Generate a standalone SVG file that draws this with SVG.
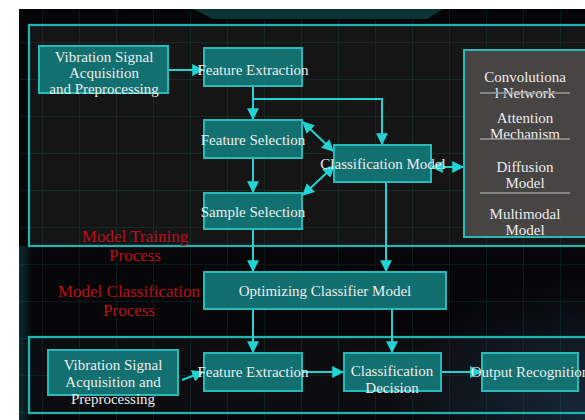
<svg xmlns="http://www.w3.org/2000/svg" width="585" height="420" viewBox="0 0 585 420">
  <defs>
    <pattern id="grid" width="37" height="37" patternUnits="userSpaceOnUse" x="6" y="6">
      <path d="M37 0V37M0 37H37" fill="none" stroke="#2a8c8c" stroke-opacity="0.2" stroke-width="1.5"/>
    </pattern>
    <radialGradient id="glowBR" cx="1" cy="1" r="0.35">
      <stop offset="0" stop-color="#1c3a52" stop-opacity="0.6"/>
      <stop offset="1" stop-color="#1c3a52" stop-opacity="0"/>
    </radialGradient>
    <linearGradient id="glowL" x1="0" x2="1" y1="0" y2="0">
      <stop offset="0" stop-color="#0f4a4f" stop-opacity="0.6"/>
      <stop offset="1" stop-color="#0f4a4f" stop-opacity="0"/>
    </linearGradient>
    <marker id="ah" viewBox="0 0 10 10" refX="9" refY="5" markerWidth="6" markerHeight="6" orient="auto-start-reverse" markerUnits="strokeWidth">
      <path d="M0 0L10 5L0 10Z" fill="#22d3d3"/>
    </marker>
  </defs>
  <style>
    .frame { fill: none; stroke: #1fb3b3; stroke-width: 2.2; }
    .node { fill: #137878; fill-opacity: 0.92; stroke: #2ab9b9; stroke-width: 2; }
    .panel { fill: #4c4949; fill-opacity: 0.92; stroke: #2ab9b9; stroke-width: 2; }
    .t { font-family: "Liberation Serif", "Times New Roman", serif; font-size: 15px; fill: #ececec; text-anchor: middle; }
    .red { font-family: "Liberation Serif", "Times New Roman", serif; font-size: 17px; fill: #b8101c; text-anchor: middle; }
    .div { stroke: #9a9a9a; stroke-width: 1.5; }
    .c { fill: none; stroke: #22d3d3; stroke-width: 2; }
  </style>

  <!-- page and dark backdrop -->
  <rect width="585" height="420" fill="#ffffff"/>
  <rect x="19" y="9" width="566" height="411" fill="#060608"/>
  <rect x="29" y="25" width="556" height="221" fill="#151515"/>
  <rect x="29" y="337" width="556" height="76" fill="#0d0d10"/>
  <rect x="19" y="246" width="14" height="174" fill="url(#glowL)"/>
  <rect x="19" y="9" width="566" height="411" fill="url(#glowBR)"/>
  <rect x="19" y="9" width="566" height="411" fill="url(#grid)"/>
  <path d="M193 9H443L427 19H213Z" fill="#0c3434"/>

  <!-- process frames -->
  <rect class="frame" x="29" y="25" width="570" height="221"/>
  <rect class="frame" x="29" y="337" width="570" height="76"/>

  <!-- connectors -->
  <g id="connectors">
    <path class="c" d="M168 70H203" marker-end="url(#ah)"/>
    <path class="c" d="M253 86V119" marker-end="url(#ah)"/>
    <path class="c" d="M253 99H382V144" marker-end="url(#ah)"/>
    <path class="c" d="M253 158V192" marker-end="url(#ah)"/>
    <path class="c" d="M303 122L333 151" marker-start="url(#ah)" marker-end="url(#ah)"/>
    <path class="c" d="M334 166L303 195" marker-start="url(#ah)" marker-end="url(#ah)"/>
    <path class="c" d="M432 167H463" marker-start="url(#ah)" marker-end="url(#ah)"/>
    <path class="c" d="M253 229V271" marker-end="url(#ah)"/>
    <path class="c" d="M386 182V271" marker-end="url(#ah)"/>
    <path class="c" d="M253 309V352" marker-end="url(#ah)"/>
    <path class="c" d="M392 309V352" marker-end="url(#ah)"/>
    <path class="c" d="M182 380L203 372" marker-end="url(#ah)"/>
    <path class="c" d="M302 372H343" marker-end="url(#ah)"/>
    <path class="c" d="M441 372H481" marker-end="url(#ah)"/>
  </g>

  <!-- training stage -->
  <g id="acquisition-train">
    <rect class="node" x="39" y="46" width="129" height="47"/>
    <text class="t" x="104" y="62">Vibration Signal</text>
    <text class="t" x="104" y="78">Acquisition</text>
    <text class="t" x="104" y="94">and Preprocessing</text>
  </g>
  <g id="feature-extraction-train">
    <rect class="node" x="204" y="48" width="98" height="38"/>
    <text class="t" x="253" y="75">Feature Extraction</text>
  </g>
  <g id="feature-selection">
    <rect class="node" x="204" y="120" width="98" height="38"/>
    <text class="t" x="253" y="145">Feature Selection</text>
  </g>
  <g id="sample-selection">
    <rect class="node" x="204" y="193" width="98" height="36"/>
    <text class="t" x="253" y="217">Sample Selection</text>
  </g>
  <g id="classification-model">
    <rect class="node" x="334" y="145" width="97" height="37"/>
    <text class="t" x="383" y="169">Classification Model</text>
  </g>
  <g id="model-options">
    <rect class="panel" x="464" y="50" width="130" height="187"/>
    <text class="t" x="525" y="82">Convolutiona</text>
    <text class="t" x="525" y="98">l Network</text>
    <line class="div" x1="480" y1="93" x2="570" y2="93"/>
    <text class="t" x="525" y="123">Attention</text>
    <text class="t" x="525" y="139">Mechanism</text>
    <line class="div" x1="480" y1="139" x2="570" y2="139"/>
    <text class="t" x="525" y="172">Diffusion</text>
    <text class="t" x="525" y="188">Model</text>
    <line class="div" x1="480" y1="193" x2="570" y2="193"/>
    <text class="t" x="525" y="219">Multimodal</text>
    <text class="t" x="525" y="235">Model</text>
  </g>
  <g id="training-label">
    <text class="red" x="135" y="242">Model Training</text>
    <text class="red" x="135" y="261">Process</text>
  </g>

  <!-- optimisation -->
  <g id="optimizing">
    <rect class="node" x="204" y="272" width="242" height="37"/>
    <text class="t" x="325" y="296">Optimizing Classifier Model</text>
  </g>
  <g id="classification-label">
    <text class="red" x="129" y="297">Model Classification</text>
    <text class="red" x="129" y="316">Process</text>
  </g>

  <!-- classification stage -->
  <g id="acquisition-classify">
    <rect class="node" x="48" y="350" width="130" height="45"/>
    <text class="t" x="113" y="370">Vibration Signal</text>
    <text class="t" x="113" y="387">Acquisition and</text>
    <text class="t" x="113" y="404">Preprocessing</text>
  </g>
  <g id="feature-extraction-classify">
    <rect class="node" x="204" y="353" width="98" height="38"/>
    <text class="t" x="253" y="377">Feature Extraction</text>
  </g>
  <g id="classification-decision">
    <rect class="node" x="344" y="353" width="97" height="38"/>
    <text class="t" x="392" y="376">Classification</text>
    <text class="t" x="392" y="393">Decision</text>
  </g>
  <g id="output-recognition">
    <rect class="node" x="482" y="353" width="96" height="38"/>
    <text class="t" x="530" y="377">Output Recognition</text>
  </g>
</svg>
